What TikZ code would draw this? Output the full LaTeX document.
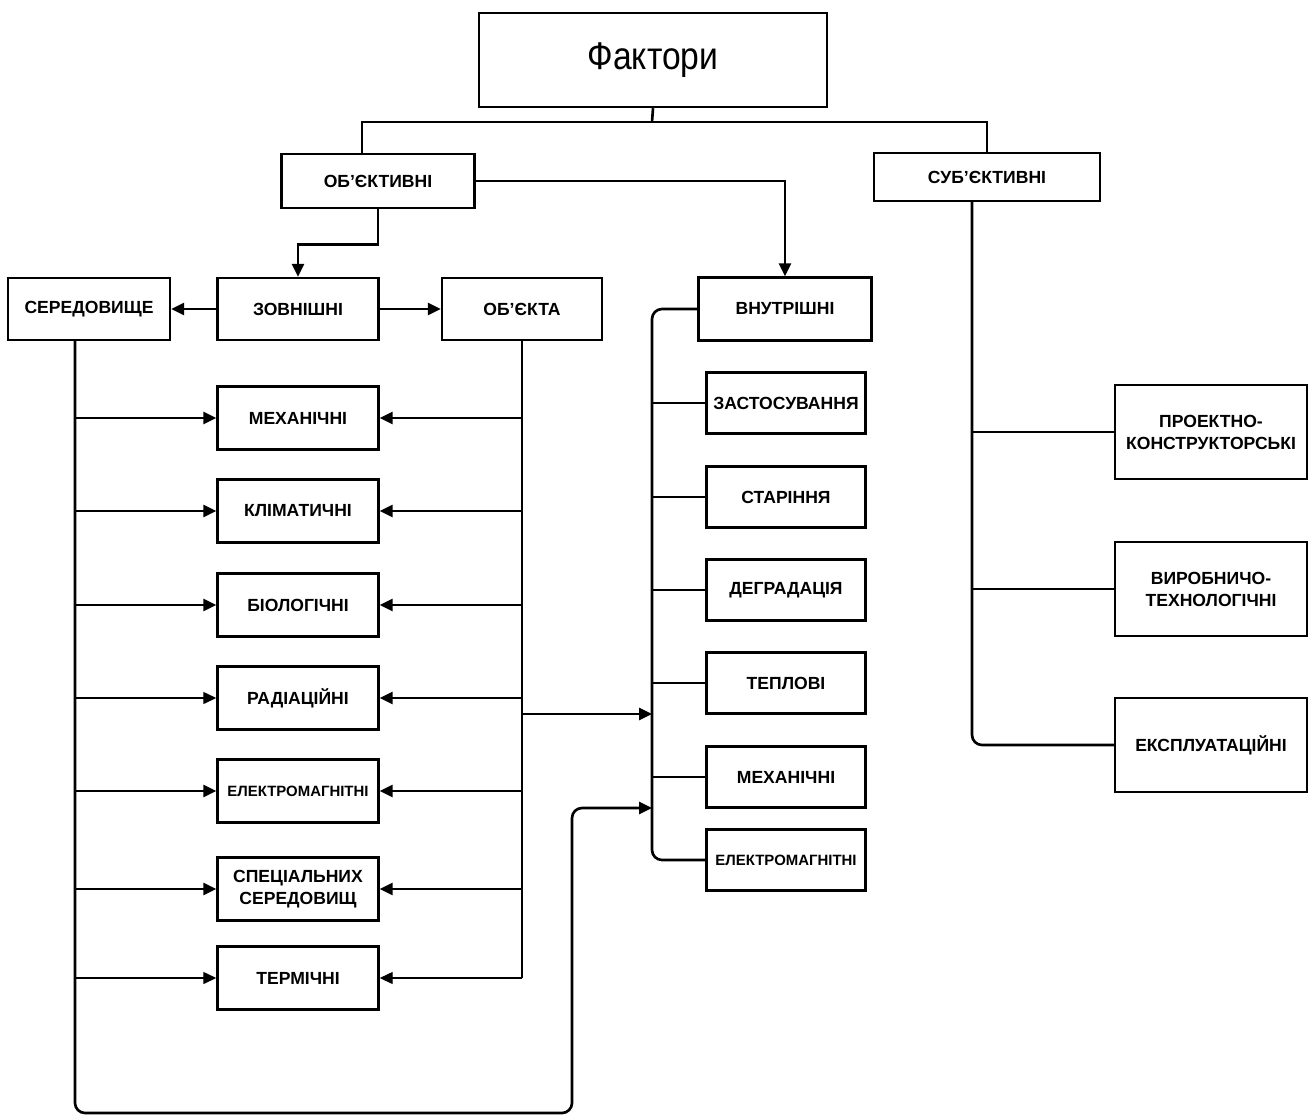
\documentclass[tikz,border=0pt]{standalone}
\usepackage{fontspec}
\setmainfont{Liberation Sans}
\newfontfamily\narrowsans[FakeStretch=0.87]{Liberation Sans}
\usetikzlibrary{arrows.meta}
\usetikzlibrary{calc}

\begin{document}
\begin{tikzpicture}[x=0.02cm, y=-0.02cm,
	box/.style={draw, line width=1.4pt, inner sep=1pt, align=center, font=\fontsize{10}{12.5}\selectfont\bfseries},
	midbox/.style={box, minimum width=3.22cm, minimum height=1.26cm},
	inbox/.style={box, minimum width=3.18cm, minimum height=1.22cm},
	subbox/.style={box, minimum width=3.84cm, minimum height=1.88cm},
	small/.style={font=\fontsize{8.5}{10}\selectfont\bfseries},
	thickline/.style={line width=1.5pt},
	thinline/.style={line width=0.8pt},
	arr/.style={-{Triangle[length=2.6mm,width=2.4mm]}}]
	\useasboundingbox (0,0) rectangle (1310,1118);
	% top level
	\node[box, minimum width=6.96cm, minimum height=1.88cm, font=\narrowsans\fontsize{22}{24}\selectfont] (fakt) at (653,60) {Фактори};
	\node[box, minimum width=3.86cm, minimum height=1.08cm] (obj) at (378,181) {ОБ'ЄКТИВНІ};
	\node[box, minimum width=4.52cm, minimum height=0.96cm] (subj) at (987,177) {СУБ'ЄКТИВНІ};
	
	% second row
	\node[box, minimum width=3.24cm, minimum height=1.24cm] (ser) at (89,309) {СЕРЕДОВИЩЕ};
	\node[box, minimum width=3.22cm, minimum height=1.24cm] (zovn) at (298,309) {ЗОВНІШНІ};
	\node[box, minimum width=3.2cm, minimum height=1.24cm] (obkt) at (522,309) {ОБ'ЄКТА};
	\node[box, minimum width=3.46cm, minimum height=1.26cm] (vnutr) at (785,309) {ВНУТРІШНІ};
	
	% external factors
	\node[midbox] (mmech) at (298,418) {МЕХАНІЧНІ};
	\node[midbox] (mclim) at (298,511) {КЛІМАТИЧНІ};
	\node[midbox] (mbio) at (298,605) {БІОЛОГІЧНІ};
	\node[midbox] (mrad) at (298,698) {РАДІАЦІЙНІ};
	\node[midbox, small] (melm) at (298,791) {ЕЛЕКТРОМАГНІТНІ};
	\node[midbox] (mspec) at (298,889) {СПЕЦІАЛЬНИХ\\СЕРЕДОВИЩ};
	\node[midbox] (mterm) at (298,978) {ТЕРМІЧНІ};
	
	% internal factors
	\node[inbox] (izast) at (786,403) {ЗАСТОСУВАННЯ};
	\node[inbox] (istar) at (786,497) {СТАРІННЯ};
	\node[inbox] (idegr) at (786,590) {ДЕГРАДАЦІЯ};
	\node[inbox] (itepl) at (786,683) {ТЕПЛОВІ};
	\node[inbox] (imech) at (786,777) {МЕХАНІЧНІ};
	\node[inbox, small] (ielm) at (786,860) {ЕЛЕКТРОМАГНІТНІ};
	
	% subjective factors
	\node[subbox] (sproj) at (1211,432) {ПРОЕКТНО-\\КОНСТРУКТОРСЬКІ};
	\node[subbox] (svyr) at (1211,589) {ВИРОБНИЧО-\\ТЕХНОЛОГІЧНІ};
	\node[subbox] (sexpl) at (1211,745) {ЕКСПЛУАТАЦІЙНІ};
	
	% helper points
	\coordinate (bar) at (652,122);
	\coordinate (L) at ($(ser.south)+(-14,0)$);
	\coordinate (S) at ($(subj.south)+(-15,0)$);
	\coordinate (in1) at (652,714);
	\coordinate (in2) at (652,808);
	\coordinate (loop) at (572,1113);
	
	% top bar
	\draw[thickline] (fakt.south) -- (bar);
	\draw[thickline] (bar) -| ($(obj.north)+(-16,0)$);
	\draw[thickline] (bar) -| (subj.north);
	\draw[thickline, arr] (obj.south) -- ++(0,35) -| (zovn.north);
	\draw[thickline, arr] (obj.east) -| (vnutr.north);
	\draw[thickline, arr] (zovn.west) -- (ser.east);
	\draw[thickline, arr] (zovn.east) -- (obkt.west);
	
	% environment line
	\draw[thickline, arr, rounded corners=2mm] (L) |- (loop) |- (in2);
	\draw[thickline, arr] (L |- mmech.west) -- (mmech.west);
	\draw[thickline, arr] (L |- mclim.west) -- (mclim.west);
	\draw[thickline, arr] (L |- mbio.west) -- (mbio.west);
	\draw[thinline, arr] (L |- mrad.west) -- (mrad.west);
	\draw[thickline, arr] (L |- melm.west) -- (melm.west);
	\draw[thickline, arr] (L |- mspec.west) -- (mspec.west);
	\draw[thinline, arr] (L |- mterm.west) -- (mterm.west);
	
	% object line
	\draw[thickline] (obkt.south) -- (obkt.south |- mterm.east);
	\draw[thickline, arr] (obkt.south |- mmech.east) -- (mmech.east);
	\draw[thickline, arr] (obkt.south |- mclim.east) -- (mclim.east);
	\draw[thickline, arr] (obkt.south |- mbio.east) -- (mbio.east);
	\draw[thickline, arr] (obkt.south |- mrad.east) -- (mrad.east);
	\draw[thickline, arr] (obkt.south |- melm.east) -- (melm.east);
	\draw[thickline, arr] (obkt.south |- mspec.east) -- (mspec.east);
	\draw[thinline, arr] (obkt.south |- mterm.east) -- (mterm.east);
	\draw[thickline, arr] (obkt.south |- in1) -- (in1);
	
	% internal line
	\draw[thickline, rounded corners=2mm] (vnutr.west) -| (in1) |- (ielm.west);
	\draw[thinline] (in1 |- izast.west) -- (izast.west);
	\draw[thinline] (in1 |- istar.west) -- (istar.west);
	\draw[thickline] (in1 |- idegr.west) -- (idegr.west);
	\draw[thickline] (in1 |- itepl.west) -- (itepl.west);
	\draw[thickline] (in1 |- imech.west) -- (imech.west);
	
	% subjective line
	\draw[thickline, rounded corners=2mm] (S) |- (sexpl.west);
	\draw[thickline] (S |- sproj.west) -- (sproj.west);
	\draw[thickline] (S |- svyr.west) -- (svyr.west);
\end{tikzpicture}
\end{document}
